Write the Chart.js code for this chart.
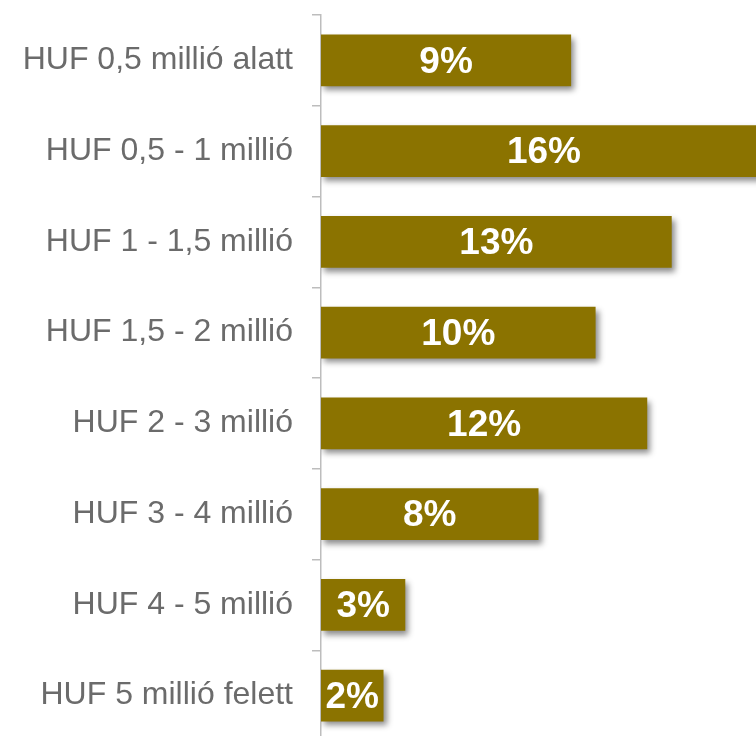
<!DOCTYPE html>
<html>
<head>
<meta charset="utf-8">
<script src="https://cdn.jsdelivr.net/npm/chart.js@4.4.1/dist/chart.umd.min.js"></script>
<style>
  html, body { margin: 0; padding: 0; background: #fff; overflow: hidden; }
  #wrap { width: 756px; height: 741px; position: relative; }
</style>
</head>
<body>
<div id="wrap"><canvas id="incomeChart"></canvas></div>
<script>
// jövedelem kategóriák
const categories = [
  'HUF 0,5 millió alatt',
  'HUF 0,5 - 1 millió',
  'HUF 1 - 1,5 millió',
  'HUF 1,5 - 2 millió',
  'HUF 2 - 3 millió',
  'HUF 3 - 4 millió',
  'HUF 4 - 5 millió',
  'HUF 5 millió felett'
];
// arányok (%)
const shares = [9.2, 16.4, 12.9, 10.1, 12.0, 8.0, 3.1, 2.3];
const axisMax = 16;

const barColor = '#8b7300';
const labelColor = '#6b6b6b';

// árnyék a sávok alatt
const shadowPlugin = {
  id: 'barShadow',
  beforeDatasetsDraw(chart) {
    const ctx = chart.ctx;
    ctx.save();
    ctx.shadowColor = 'rgba(0,0,0,0.45)';
    ctx.shadowBlur = 6;
    ctx.shadowOffsetX = 3;
    ctx.shadowOffsetY = 4;
  },
  afterDatasetsDraw(chart) {
    chart.ctx.restore();
  }
};

// százalék felirat a sáv közepére
const valueLabels = {
  id: 'valueLabels',
  afterDatasetsDraw(chart) {
    const ctx = chart.ctx;
    const meta = chart.getDatasetMeta(0);
    ctx.save();
    ctx.fillStyle = '#fff';
    ctx.font = 'bold 37px "Liberation Sans", Arial, sans-serif';
    ctx.textAlign = 'center';
    ctx.textBaseline = 'middle';
    meta.data.forEach((bar, i) => {
      const cx = (bar.x + bar.base) / 2;
      ctx.fillText(Math.round(shares[i]) + '%', cx, bar.y + 2);
    });
    ctx.restore();
  }
};

new Chart(document.getElementById('incomeChart'), {
  type: 'bar',
  data: {
    labels: categories,
    datasets: [{
      data: shares,
      backgroundColor: barColor,
      borderWidth: 0,
      barPercentage: 0.57,
      categoryPercentage: 1
    }]
  },
  options: {
    indexAxis: 'y',
    responsive: true,
    maintainAspectRatio: false,
    animation: false,
    layout: { padding: { top: 15, right: 0, bottom: 0, left: 0 } },
    plugins: {
      legend: { display: false },
      tooltip: { enabled: false }
    },
    scales: {
      x: {
        display: false,
        min: 0,
        max: axisMax
      },
      y: {
        afterFit(scale) {
          scale.width = 321;
          scale.paddingTop = 0;
          scale.paddingBottom = 0;
        },
        border: { display: true, color: '#bdbdbd', width: 1.5 },
        grid: {
          offset: true,
          drawOnChartArea: false,
          tickLength: 9,
          color: '#bdbdbd',
          lineWidth: 1.5
        },
        ticks: {
          padding: 19,
          color: labelColor,
          font: { family: '"Liberation Sans", Arial, sans-serif', size: 32 }
        }
      }
    }
  },
  plugins: [shadowPlugin, valueLabels]
});
</script>
</body>
</html>
